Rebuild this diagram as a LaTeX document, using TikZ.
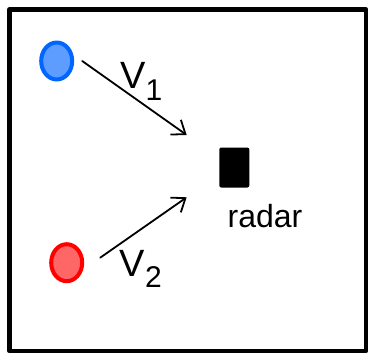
\documentclass[tikz,border=0pt]{standalone}
\usepackage{fontspec}
\setmainfont{Liberation Sans}
\usetikzlibrary{arrows.meta,shapes.geometric}

\newcommand{\velfont}{\fontsize{38}{38}\selectfont}
\newcommand{\subfont}{\fontsize{30}{30}\selectfont}

\begin{document}
\begin{tikzpicture}[>={Straight Barb[length=12pt,width=18pt]}, line join=round, line cap=round, x=1pt, y=-1pt,
	target/.style={ellipse, line width=4pt, minimum width=31pt, minimum height=37pt, inner sep=0pt},
	label/.style={anchor=base west, inner sep=0pt}]
	\useasboundingbox (0, 0) rectangle (368, 354);
	% Khung
	\draw[line width=4.5pt] (9.5, 9.5) rectangle (366, 351);
	% Hai vật và radar
	\node[target, draw={rgb,255:red,0;green,102;blue,255}, fill={rgb,255:red,92;green,157;blue,255}] (obj1) at (56.7, 61) {};
	\node[target, draw={rgb,255:red,255;green,0;blue,0}, fill={rgb,255:red,255;green,102;blue,102}] (obj2) at (66.7, 262.7) {};
	\node[fill=black, rounded corners=2pt, minimum width=30pt, minimum height=40pt, inner sep=0pt] (radar) at (234.3, 167.5) {};
	\node[label] (radarlbl) at (227.5, 227.7) {\fontsize{32}{32}\selectfont radar};
	% Vận tốc
	\coordinate (tip1) at (186.7, 135);
	\coordinate (tip2) at (186.7, 197.3);
	\draw[->, line width=1.8pt] ([xshift=8pt]obj1.east) -- (tip1);
	\draw[->, line width=1.8pt] ([xshift=16pt, yshift=5pt]obj2.east) -- (tip2);
	\node[label] (v1) at (120, 88.3) {\velfont V\raisebox{-12pt}{\subfont 1}};
	\node[label] (v2) at (119.5, 276.7) {\velfont V\raisebox{-11pt}{\subfont 2}};
\end{tikzpicture}
\end{document}
